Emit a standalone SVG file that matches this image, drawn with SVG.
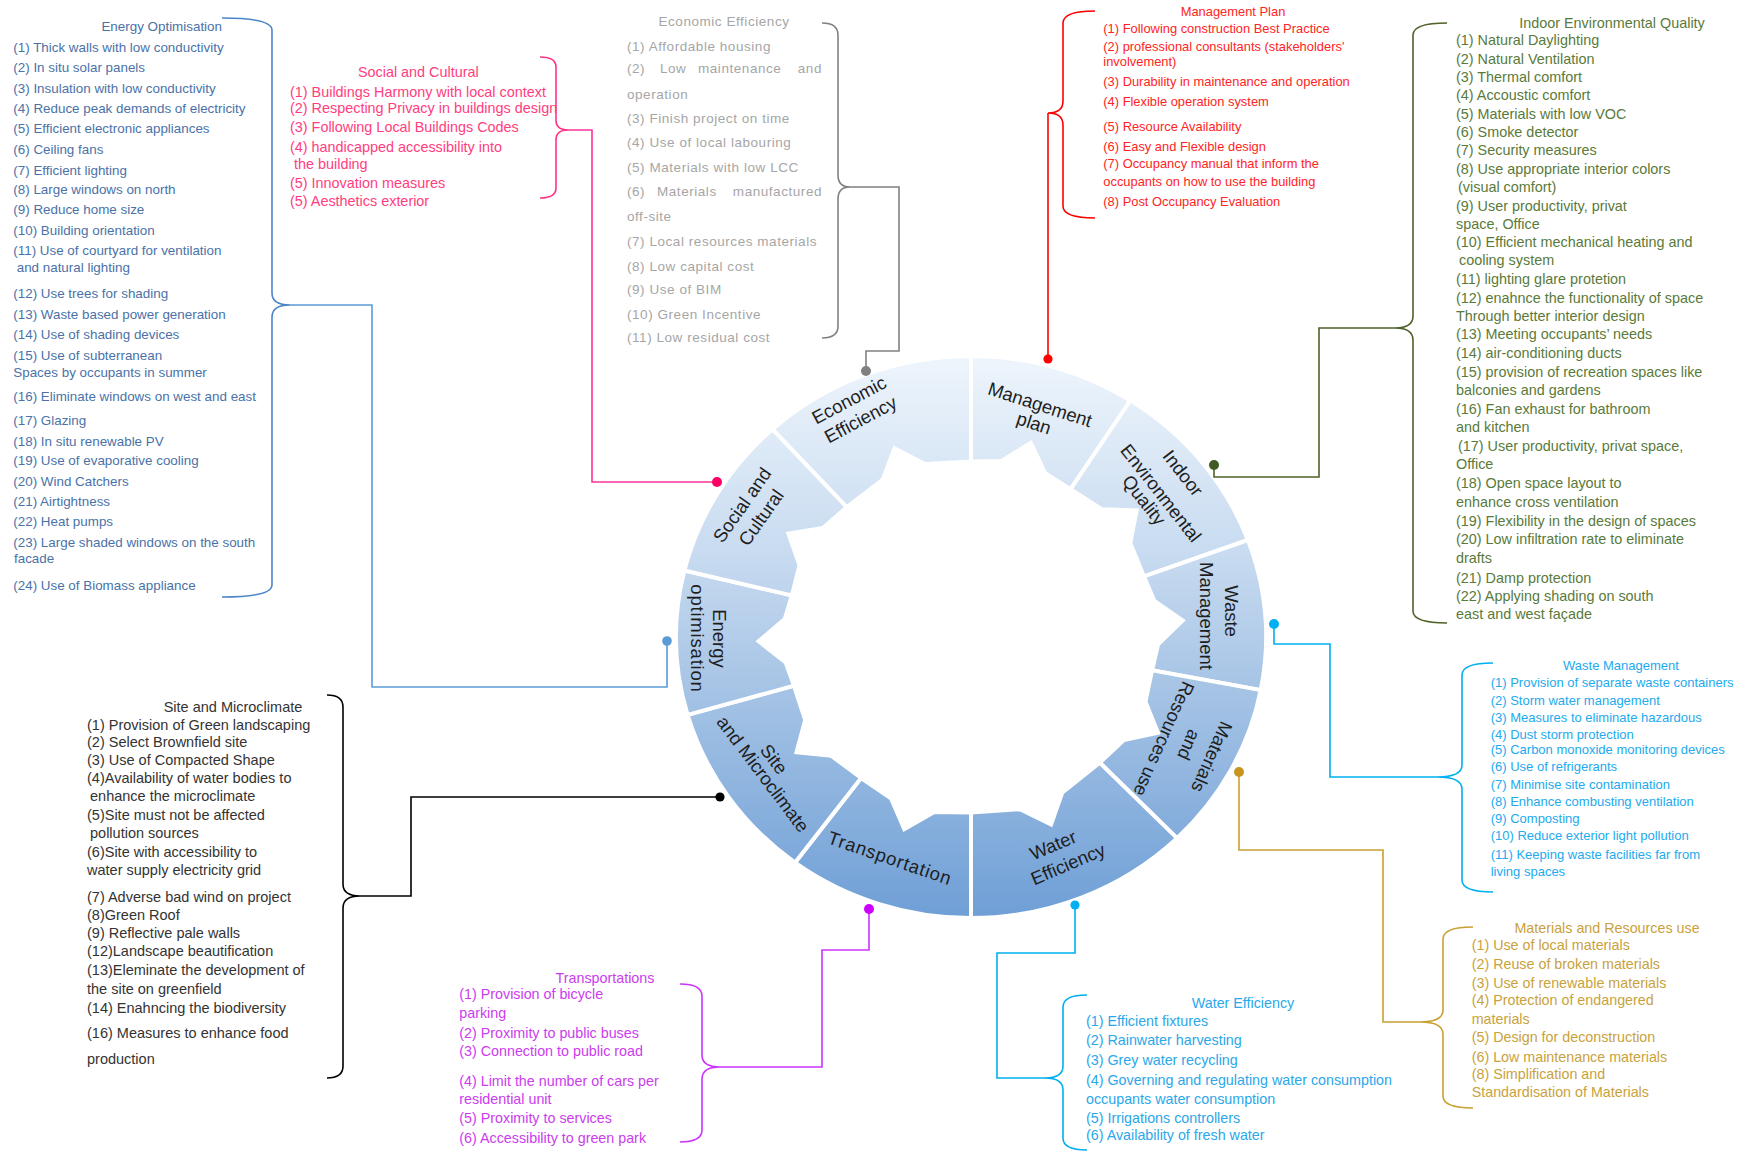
<svg xmlns="http://www.w3.org/2000/svg" width="1742" height="1152" viewBox="0 0 1742 1152">
<style>
text{font-family:"Liberation Sans",Arial,sans-serif}
.mid{text-anchor:middle}
.end{text-anchor:end}
.eo{fill:#4a72a8;font-size:13.4px}
.sc{fill:#ff3d80;font-size:14.4px}
.ec{fill:#a6a6a6;font-size:13.5px;letter-spacing:0.55px}
.mp{fill:#ff2424;font-size:12.9px}
.iq{fill:#5a7a3a;font-size:14.4px}
.wm{fill:#22aaee;font-size:13px}
.mr{fill:#c9a23c;font-size:14.3px}
.we{fill:#2aa8ea;font-size:14.3px}
.tr{fill:#cc3cee;font-size:14.3px}
.sm{fill:#333333;font-size:14.5px}
.lab{font-size:18.5px;fill:#1e1e1e;text-anchor:middle;dominant-baseline:central}
.seg{fill:url(#ringGrad);stroke:#ffffff;stroke-width:4;stroke-linejoin:miter}
.br{fill:none;stroke-width:1.6}
.cn{fill:none;stroke-width:1.6}
</style>
<defs>
<linearGradient id="ringGrad" gradientUnits="userSpaceOnUse" x1="0" y1="356" x2="0" y2="918">
<stop offset="0" stop-color="#eef5fc"/>
<stop offset="0.35" stop-color="#c8dbf0"/>
<stop offset="0.6" stop-color="#a5c3e5"/>
<stop offset="1" stop-color="#6f9fd6"/>
</linearGradient>
</defs>
<rect width="1742" height="1152" fill="#ffffff"/>

<!-- Ring segments -->
<g id="seg-management">
<path class="seg" d="M971,356 A295,281 0 0 1 1130.4,400.5 L1070.6,489.2 L1045.2,473.2 L1030.8,442.9 L1001.4,461.0 L971,461.4 Z"/>
<text class="lab" transform="translate(1040,404.5) rotate(18)">Management</text>
<text class="lab" transform="translate(1034,423) rotate(18)">plan</text>
</g>
<g id="seg-indoor">
<path class="seg" d="M1130.4,400.5 A295,281 0 0 1 1247.9,540.0 L1144.0,576.4 L1130.3,543.1 L1136.6,510.4 L1101.7,509.2 L1070.6,489.2 Z"/>
<text class="lab" transform="translate(1183,473) rotate(52)">Indoor</text>
<text class="lab" transform="translate(1161,493) rotate(52)">Environmental</text>
<text class="lab" transform="translate(1144,500) rotate(52)">Quality</text>
</g>
<g id="seg-waste">
<path class="seg" d="M1247.9,540.0 A295,281 0 0 1 1260.7,690.1 L1152.1,670.2 L1158.1,644.3 L1182.7,620.6 L1154.4,601.0 L1144.0,576.4 Z"/>
<text class="lab" transform="translate(1231,611) rotate(90)">Waste</text>
<text class="lab" transform="translate(1206,616) rotate(90)">Management</text>
</g>
<g id="seg-materials">
<path class="seg" d="M1260.7,690.1 A295,281 0 0 1 1177.0,838.1 L1099.8,762.7 L1123.9,740.1 L1158.0,732.9 L1145.5,701.8 L1152.1,670.2 Z"/>
<text class="lab" transform="translate(1212,757) rotate(114)">Materials</text>
<text class="lab" transform="translate(1189,745) rotate(114)">and</text>
<text class="lab" transform="translate(1164,739) rotate(114)">Resources use</text>
</g>
<g id="seg-water">
<path class="seg" d="M1177.0,838.1 A295,281 0 0 1 971,918 L971,812.6 L1019.9,809.2 L1051.1,824.4 L1062.2,792.8 L1099.8,762.7 Z"/>
<text class="lab" transform="translate(1053,845) rotate(-23)">Water</text>
<text class="lab" transform="translate(1068,864) rotate(-23)">Efficiency</text>
</g>
<g id="seg-transportation">
<path class="seg" d="M971,918 A295,281 0 0 1 795.1,862.6 L861.1,778.0 L890.9,798.3 L904.3,829.1 L934.3,811.9 L971,812.6 Z"/>
<text class="lab" transform="translate(890,858) rotate(19)" letter-spacing="0.8">Transportation</text>
</g>
<g id="seg-site">
<path class="seg" d="M795.1,862.6 A295,281 0 0 1 687.6,714.9 L793.9,685.7 L805.2,720.1 L796.5,752.3 L831.3,755.8 L861.1,778.0 Z"/>
<text class="lab" transform="translate(774,759) rotate(53)">Site</text>
<text class="lab" transform="translate(763,774) rotate(53)">and Microclimate</text>
</g>
<g id="seg-energy">
<path class="seg" d="M687.6,714.9 A295,281 0 0 1 684.4,570.5 L791.9,595.4 L784.7,619.0 L758.6,641.2 L785.6,662.4 L793.9,685.7 Z"/>
<text class="lab" transform="translate(719,638.5) rotate(90)">Energy</text>
<text class="lab" transform="translate(697.6,638.5) rotate(90)" letter-spacing="0.8">optimisation</text>
</g>
<g id="seg-social">
<path class="seg" d="M684.4,570.5 A295,281 0 0 1 772.5,429.2 L846.9,507.1 L822.8,527.9 L788.4,533.7 L799.5,565.3 L791.9,595.4 Z"/>
<text class="lab" transform="translate(742,505) rotate(-55)">Social and</text>
<text class="lab" transform="translate(761,517.5) rotate(-55)">Cultural</text>
</g>
<g id="seg-economic">
<path class="seg" d="M772.5,429.2 A295,281 0 0 1 971,356 L971,461.4 L925.2,464.0 L894.4,448.3 L882.7,479.7 L846.9,507.1 Z"/>
<text class="lab" transform="translate(849,400) rotate(-28)">Economic</text>
<text class="lab" transform="translate(860.5,419.5) rotate(-28)">Efficiency</text>
</g>

<!-- Connectors -->
<g id="connectors">
<path class="cn" stroke="#5b9bd5" d="M290,305 H372 V687 H667 V641"/>
<circle cx="667" cy="641" r="4.8" fill="#5b9bd5"/>
<path class="cn" stroke="#ff3399" d="M568,130 H592 V482 H717"/>
<circle cx="717" cy="482" r="5" fill="#ff0066"/>
<path class="cn" stroke="#808080" d="M850,187 H899 V351 H866 V371"/>
<circle cx="866" cy="371" r="5" fill="#808080"/>
<path class="cn" stroke="#ff0000" d="M1048,113 V359"/>
<circle cx="1048" cy="359" r="4.6" fill="#ff0000"/>
<path class="cn" stroke="#4f6228" d="M1395,328 H1319 V477 H1214 V465"/>
<circle cx="1214" cy="465" r="5" fill="#3f5a22"/>
<path class="cn" stroke="#00b0f0" d="M1437,777 H1330 V644 H1274 V624"/>
<circle cx="1274" cy="624" r="5" fill="#00b0f0"/>
<path class="cn" stroke="#c9a032" d="M1420,1022 H1383 V850 H1239 V772"/>
<circle cx="1239" cy="772" r="5" fill="#c8961e"/>
<path class="cn" stroke="#00b0f0" d="M1045,1078 H997 V953 H1075 V905"/>
<circle cx="1075" cy="905" r="4.6" fill="#00b0f0"/>
<path class="cn" stroke="#cc33ff" d="M720,1067 H822 V950 H869 V909"/>
<circle cx="869" cy="909" r="5" fill="#cc00ff"/>
<path class="cn" stroke="#000000" d="M360,896 H411 V797 H720"/>
<circle cx="720" cy="797" r="4.6" fill="#000000"/>
</g>

<!-- Energy Optimisation -->
<g id="list-energy">
<path class="br" stroke="#4a86c8" d="M222,18 Q272,18 272,30 V293 Q272,305 290,305 Q272,305 272,317 V585 Q272,597 222,597"/>
<text class="eo mid" x="161.7" y="30.7">Energy Optimisation</text>
<text class="eo" x="13.3" y="51.7">(1) Thick walls with low conductivity</text>
<text class="eo" x="13.3" y="72.3">(2) In situ solar panels</text>
<text class="eo" x="13.3" y="93">(3) Insulation with low conductivity</text>
<text class="eo" x="13.3" y="113">(4) Reduce  peak demands of electricity</text>
<text class="eo" x="13.3" y="133">(5) Efficient electronic appliances</text>
<text class="eo" x="13.3" y="154">(6) Ceiling fans</text>
<text class="eo" x="13.3" y="174.7">(7) Efficient lighting</text>
<text class="eo" x="13.3" y="193.7">(8) Large windows on north</text>
<text class="eo" x="13.3" y="214">(9) Reduce  home size</text>
<text class="eo" x="13.3" y="234.7">(10) Building orientation</text>
<text class="eo" x="13.3" y="254.7">(11) Use of courtyard for ventilation</text>
<text class="eo" x="16.7" y="272">and natural lighting</text>
<text class="eo" x="13.3" y="298">(12) Use trees for shading</text>
<text class="eo" x="13.3" y="319">(13) Waste based power generation</text>
<text class="eo" x="13.3" y="339">(14) Use of shading devices</text>
<text class="eo" x="13.3" y="359.7">(15) Use of subterranean</text>
<text class="eo" x="13.3" y="377">Spaces by occupants in summer</text>
<text class="eo" x="13.3" y="401.3">(16) Eliminate windows on west and east</text>
<text class="eo" x="13.3" y="424.7">(17) Glazing</text>
<text class="eo" x="13.3" y="445.7">(18) In situ renewable PV</text>
<text class="eo" x="13.3" y="465">(19) Use of evaporative cooling</text>
<text class="eo" x="13.3" y="485.7">(20) Wind Catchers</text>
<text class="eo" x="13.3" y="505.7">(21) Airtightness</text>
<text class="eo" x="13.3" y="526">(22) Heat pumps</text>
<text class="eo" x="13.3" y="546.7">(23) Large shaded windows on the south</text>
<text class="eo" x="14" y="563.3">facade</text>
<text class="eo" x="13.3" y="589.7">(24) Use of Biomass appliance</text>
</g>

<!-- Social and Cultural -->
<g id="list-social">
<path class="br" stroke="#ff3385" d="M540,57 Q556,57 556,67 V120 Q556,130 568,130 Q556,130 556,140 V188 Q556,198 540,198"/>
<text class="sc mid" x="418.3" y="77">Social and Cultural</text>
<text class="sc" x="290" y="96.7">(1) Buildings Harmony with local context</text>
<text class="sc" x="290" y="113">(2) Respecting Privacy in buildings design</text>
<text class="sc" x="290" y="132">(3) Following Local Buildings Codes</text>
<text class="sc" x="290" y="151.6">(4) handicapped accessibility into</text>
<text class="sc" x="294" y="169.3">the building</text>
<text class="sc" x="290" y="188.3">(5) Innovation measures</text>
<text class="sc" x="290" y="206">(5) Aesthetics exterior</text>
</g>

<!-- Economic Efficiency -->
<g id="list-economic">
<path class="br" stroke="#808080" d="M822,23 Q838,23 838,35 V175 Q838,187 850,187 Q838,187 838,199 V326 Q838,338 822,338"/>
<text class="ec mid" x="724" y="25.7">Economic Efficiency</text>
<text class="ec" x="627" y="50.7">(1) Affordable housing</text>
<text class="ec" x="627" y="73.3">(2)</text>
<text class="ec" x="660" y="73.3">Low</text>
<text class="ec" x="698" y="73.3">maintenance</text>
<text class="ec end" x="822" y="73.3">and</text>
<text class="ec" x="627" y="99">operation</text>
<text class="ec" x="627" y="123.3">(3) Finish project on time</text>
<text class="ec" x="627" y="147.3">(4) Use of local labouring</text>
<text class="ec" x="627" y="171.7">(5) Materials with low LCC</text>
<text class="ec" x="627" y="195.7">(6)</text>
<text class="ec" x="657" y="195.7">Materials</text>
<text class="ec end" x="822" y="195.7">manufactured</text>
<text class="ec" x="627" y="220.7">off-site</text>
<text class="ec" x="627" y="245.7">(7) Local resources materials</text>
<text class="ec" x="627" y="270.7">(8) Low capital cost</text>
<text class="ec" x="627" y="294">(9) Use of BIM</text>
<text class="ec" x="627" y="319">(10) Green Incentive</text>
<text class="ec" x="627" y="342.3">(11) Low residual cost</text>
</g>

<!-- Management Plan -->
<g id="list-management">
<path class="br" stroke="#ff0000" d="M1095,11 Q1063,11 1063,23 V101 Q1063,113 1048,113 Q1063,113 1063,125 V206 Q1063,218 1095,218"/>
<text class="mp mid" x="1233" y="15.5">Management Plan</text>
<text class="mp" x="1103.3" y="33.2">(1) Following construction Best Practice</text>
<text class="mp" x="1103.3" y="50.6">(2) professional consultants (stakeholders'</text>
<text class="mp" x="1103.3" y="65.6">involvement)</text>
<text class="mp" x="1103.3" y="85.6">(3) Durability in maintenance and operation</text>
<text class="mp" x="1103.3" y="105.6">(4) Flexible operation system</text>
<text class="mp" x="1103.3" y="131.2">(5) Resource  Availability</text>
<text class="mp" x="1103.3" y="150.6">(6) Easy and Flexible design</text>
<text class="mp" x="1103.3" y="167.9">(7) Occupancy  manual that inform the</text>
<text class="mp" x="1103.3" y="185.6">occupants  on how to use the building</text>
<text class="mp" x="1103.3" y="205.6">(8) Post Occupancy  Evaluation</text>
</g>

<!-- Indoor Environmental Quality -->
<g id="list-indoor">
<path class="br" stroke="#4f6228" d="M1447,23 Q1413,23 1413,35 V316 Q1413,328 1395,328 Q1413,328 1413,340 V611 Q1413,623 1447,623"/>
<text class="iq mid" x="1612" y="27.6">Indoor Environmental Quality</text>
<text class="iq" x="1456" y="45">(1) Natural Daylighting</text>
<text class="iq" x="1456" y="63.6">(2) Natural Ventilation</text>
<text class="iq" x="1456" y="82">(3) Thermal comfort</text>
<text class="iq" x="1456" y="100">(4) Accoustic comfort</text>
<text class="iq" x="1456" y="118.6">(5) Materials with low VOC</text>
<text class="iq" x="1456" y="137">(6) Smoke detector</text>
<text class="iq" x="1456" y="155">(7) Security measures</text>
<text class="iq" x="1456" y="173.6">(8) Use appropriate interior colors</text>
<text class="iq" x="1458" y="191.6">(visual comfort)</text>
<text class="iq" x="1456" y="211">(9) User productivity, privat</text>
<text class="iq" x="1456" y="229.3">space, Office</text>
<text class="iq" x="1456" y="247">(10) Efficient mechanical heating and</text>
<text class="iq" x="1459" y="265.3">cooling system</text>
<text class="iq" x="1456" y="284.3">(11) lighting glare protetion</text>
<text class="iq" x="1456" y="303.3">(12) enahnce the functionality of space</text>
<text class="iq" x="1456" y="321">Through better interior design</text>
<text class="iq" x="1456" y="339.3">(13) Meeting occupants’ needs</text>
<text class="iq" x="1456" y="357.6">(14) air-conditioning ducts</text>
<text class="iq" x="1456" y="376.6">(15) provision of recreation spaces like</text>
<text class="iq" x="1456" y="395">balconies and gardens</text>
<text class="iq" x="1456" y="413.6">(16) Fan exhaust for bathroom</text>
<text class="iq" x="1456" y="431.6">and kitchen</text>
<text class="iq" x="1458" y="451">(17) User productivity, privat space,</text>
<text class="iq" x="1456" y="469.3">Office</text>
<text class="iq" x="1456" y="488.3">(18) Open space layout to</text>
<text class="iq" x="1456" y="507">enhance cross ventilation</text>
<text class="iq" x="1456" y="526">(19) Flexibility in the design of spaces</text>
<text class="iq" x="1456" y="544.3">(20) Low infiltration rate to eliminate</text>
<text class="iq" x="1456" y="562.6">drafts</text>
<text class="iq" x="1456" y="582.6">(21) Damp protection</text>
<text class="iq" x="1456" y="601">(22) Applying shading on south</text>
<text class="iq" x="1456" y="619.3">east and west façade</text>
</g>

<!-- Waste Management -->
<g id="list-waste">
<path class="br" stroke="#00b0f0" d="M1493,663 Q1462,663 1462,675 V765 Q1462,777 1437,777 Q1462,777 1462,789 V880 Q1462,892 1493,892"/>
<text class="wm mid" x="1621" y="670">Waste Management</text>
<text class="wm" x="1490.7" y="687.3">(1) Provision of separate waste containers</text>
<text class="wm" x="1490.7" y="704.7">(2) Storm water management</text>
<text class="wm" x="1490.7" y="721.7">(3) Measures to eliminate hazardous</text>
<text class="wm" x="1490.7" y="739">(4) Dust storm protection</text>
<text class="wm" x="1490.7" y="754">(5) Carbon monoxide  monitoring devices</text>
<text class="wm" x="1490.7" y="771.3">(6) Use of refrigerants</text>
<text class="wm" x="1490.7" y="789">(7) Minimise site contamination</text>
<text class="wm" x="1490.7" y="805.7">(8) Enhance combusting  ventilation</text>
<text class="wm" x="1490.7" y="823">(9) Composting</text>
<text class="wm" x="1490.7" y="840">(10)  Reduce  exterior light pollution</text>
<text class="wm" x="1490.7" y="859">(11)  Keeping waste facilities far from</text>
<text class="wm" x="1490.7" y="876.3">living spaces</text>
</g>

<!-- Materials and Resources use -->
<g id="list-materials">
<path class="br" stroke="#c9a032" d="M1473,927 Q1443,927 1443,939 V1010 Q1443,1022 1420,1022 Q1443,1022 1443,1034 V1096 Q1443,1108 1473,1108"/>
<text class="mr mid" x="1607" y="932.6">Materials and Resources use</text>
<text class="mr" x="1471.7" y="950.3">(1) Use of local materials</text>
<text class="mr" x="1471.7" y="968.6">(2) Reuse of broken materials</text>
<text class="mr" x="1471.7" y="987.6">(3) Use of renewable materials</text>
<text class="mr" x="1471.7" y="1005">(4) Protection of endangered</text>
<text class="mr" x="1471.7" y="1023.6">materials</text>
<text class="mr" x="1471.7" y="1042">(5) Design for deconstruction</text>
<text class="mr" x="1471.7" y="1061.6">(6) Low maintenance materials</text>
<text class="mr" x="1471.7" y="1078.6">(8) Simplification and</text>
<text class="mr" x="1471.7" y="1097">Standardisation of Materials</text>
</g>

<!-- Water Efficiency -->
<g id="list-water">
<path class="br" stroke="#00b0f0" d="M1087,995 Q1063,995 1063,1007 V1066 Q1063,1078 1045,1078 Q1063,1078 1063,1090 V1138 Q1063,1150 1087,1150"/>
<text class="we mid" x="1243" y="1008.3">Water Efficiency</text>
<text class="we" x="1086" y="1026">(1) Efficient fixtures</text>
<text class="we" x="1086" y="1045">(2) Rainwater harvesting</text>
<text class="we" x="1086" y="1065">(3) Grey water recycling</text>
<text class="we" x="1086" y="1085">(4) Governing and regulating water consumption</text>
<text class="we" x="1086" y="1104.3">occupants water consumption</text>
<text class="we" x="1086" y="1122.6">(5) Irrigations controllers</text>
<text class="we" x="1086" y="1140.3">(6) Availability of fresh water</text>
</g>

<!-- Transportations -->
<g id="list-transport">
<path class="br" stroke="#cc33ff" d="M680,984 Q702,984 702,996 V1055 Q702,1067 720,1067 Q702,1067 702,1079 V1130 Q702,1142 680,1142"/>
<text class="tr mid" x="605" y="982.6">Transportations</text>
<text class="tr" x="459.3" y="999.3">(1) Provision of bicycle</text>
<text class="tr" x="459.3" y="1018.3">parking</text>
<text class="tr" x="459.3" y="1037.6">(2) Proximity to public buses</text>
<text class="tr" x="459.3" y="1056">(3) Connection to public road</text>
<text class="tr" x="459.3" y="1086">(4) Limit the number of cars per</text>
<text class="tr" x="459.3" y="1104.3">residential unit</text>
<text class="tr" x="459.3" y="1123.3">(5) Proximity to services</text>
<text class="tr" x="459.3" y="1142.6">(6) Accessibility to green park</text>
</g>

<!-- Site and Microclimate -->
<g id="list-site">
<path class="br" stroke="#000000" d="M327,695 Q343,695 343,707 V884 Q343,896 360,896 Q343,896 343,908 V1066 Q343,1078 327,1078"/>
<text class="sm mid" x="233" y="712.3">Site and Microclimate</text>
<text class="sm" x="87" y="729.5">(1) Provision of Green landscaping</text>
<text class="sm" x="87" y="747">(2) Select Brownfield site</text>
<text class="sm" x="87" y="765">(3) Use of Compacted Shape</text>
<text class="sm" x="87" y="782.5">(4)Availability of water bodies to</text>
<text class="sm" x="90" y="801">enhance the microclimate</text>
<text class="sm" x="87" y="819.5">(5)Site must not be affected</text>
<text class="sm" x="90" y="838">pollution sources</text>
<text class="sm" x="87" y="856.5">(6)Site with accessibility to</text>
<text class="sm" x="87" y="875">water supply electricity grid</text>
<text class="sm" x="87" y="901.5">(7) Adverse bad wind on project</text>
<text class="sm" x="87" y="920">(8)Green Roof</text>
<text class="sm" x="87" y="938">(9) Reflective pale walls</text>
<text class="sm" x="87" y="956">(12)Landscape beautification</text>
<text class="sm" x="87" y="974.5">(13)Eleminate the development of</text>
<text class="sm" x="87" y="993.5">the site on greenfield</text>
<text class="sm" x="87" y="1012.5">(14) Enahncing the biodiversity</text>
<text class="sm" x="87" y="1038">(16) Measures to enhance food</text>
<text class="sm" x="87" y="1064">production</text>
</g>
</svg>
